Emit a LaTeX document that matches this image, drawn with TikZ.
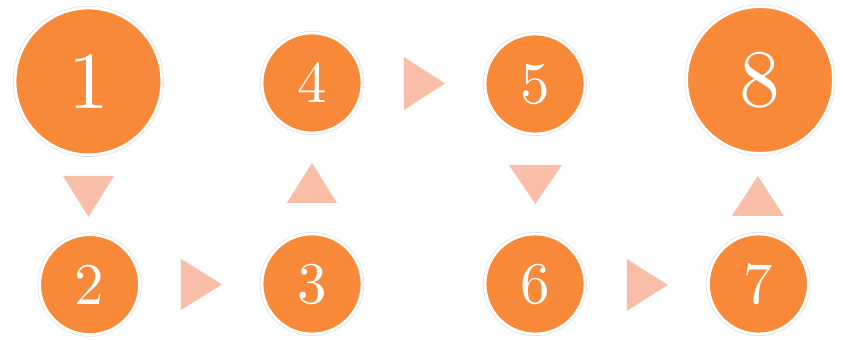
\documentclass[tikz,border=0pt]{standalone}
\usepackage{fontspec}
\usepackage{tikz-network}

\newfontfamily\digitfont{lmroman10-regular.otf}
\definecolor{dotorange}{RGB}{247,137,56}
\definecolor{pointerpink}{RGB}{249,190,168}
\definecolor{ringgray}{RGB}{222,222,222}
\newcommand{\bigdigit}{\digitfont\fontsize{58}{60}\selectfont}
\newcommand{\smalldigit}{\digitfont\fontsize{42}{44}\selectfont}
\tikzset{
  dotring/.style={preaction={draw=ringgray,line width=2.9pt}},
  pointer/.style={fill=pointerpink}
}

\begin{document}
\begin{tikzpicture}
  \useasboundingbox (0,0) rectangle (21.075,8.475);
  \SetVertexStyle[LineWidth=2pt,LineColor=white,TextColor=white,FillColor=dotorange]
  \Vertex[x=2.21,y=6.44,size=3.67,color=dotorange,label=1,fontsize=\bigdigit,style=dotring]{one}
  \Vertex[x=2.24,y=1.36,size=2.5,color=dotorange,label=2,fontsize=\smalldigit,style=dotring]{two}
  \Vertex[x=7.8,y=1.375,size=2.5,color=dotorange,label=3,fontsize=\smalldigit,style=dotring]{three}
  \Vertex[x=7.8,y=6.4,size=2.5,color=dotorange,label=4,fontsize=\smalldigit,style=dotring]{four}
  \Vertex[x=13.375,y=6.375,size=2.5,color=dotorange,label=5,fontsize=\smalldigit,style=dotring]{five}
  \Vertex[x=13.375,y=1.375,size=2.5,color=dotorange,label=6,fontsize=\smalldigit,style=dotring]{six}
  \Vertex[x=18.96,y=1.375,size=2.5,color=dotorange,label=7,fontsize=\smalldigit,style=dotring]{seven}
  \Vertex[x=19.0,y=6.475,size=3.67,color=dotorange,label=8,fontsize=\bigdigit,style=dotring]{eight}
  % pointers between the steps (pixel grid)
  \begin{scope}[shift={(0,8.475)},x=0.025cm,y=-0.025cm]
    \fill[pointer] (63,176) -- (114,176) -- (88.5,217) -- cycle;
    \fill[pointer] (181,259) -- (222,284.5) -- (181,310) -- cycle;
    \fill[pointer] (287,203) -- (337,203) -- (312,163) -- cycle;
    \fill[pointer] (404,57) -- (445,83.5) -- (404,110) -- cycle;
    \fill[pointer] (509,165) -- (562,165) -- (535.5,204) -- cycle;
    \fill[pointer] (627,259) -- (668,285) -- (627,311) -- cycle;
    \fill[pointer] (732,216) -- (784,216) -- (758,176) -- cycle;
  \end{scope}
\end{tikzpicture}
\end{document}
